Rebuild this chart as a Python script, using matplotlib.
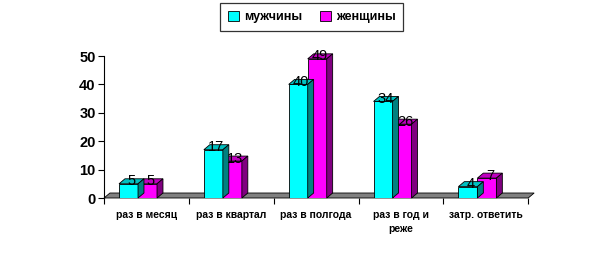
import matplotlib.pyplot as plt
import numpy as np
from matplotlib.patches import Polygon, Rectangle

plt.rcParams['font.family'] = ['Liberation Sans', 'DejaVu Sans']

categories = ['раз в месяц', 'раз в квартал', 'раз в полгода', 'раз в год и\nреже', 'затр. ответить']
men = [5, 17, 40, 34, 4]
women = [5, 13, 49, 26, 7]
series_names = ['мужчины', 'женщины']

# front, top, side colours
cyan = ('#00FFFF', '#00C0C0', '#008080')
magenta = ('#FF00FF', '#C000C0', '#800080')

fig = plt.figure(figsize=(6.16, 2.56), dpi=100)
ax = fig.add_axes([104 / 616, 58 / 256, 431 / 616, 142 / 256])

n = len(categories)
ax.set_xlim(0, n + 0.08)
ax.set_ylim(0, 50)

w = 0.224
dx = 0.07
dy = 1.76


def bar3d(x, h, cols):
    ax.add_patch(Rectangle((x, 0), w, h, facecolor=cols[0], edgecolor='black', lw=0.6, zorder=3))
    top = [(x, h), (x + w, h), (x + w + dx, h + dy), (x + dx, h + dy)]
    ax.add_patch(Polygon(top, closed=True, facecolor=cols[1], edgecolor='black', lw=0.6, zorder=3, clip_on=False))
    side = [(x + w, 0), (x + w + dx, dy), (x + w + dx, h + dy), (x + w, h)]
    ax.add_patch(Polygon(side, closed=True, facecolor=cols[2], edgecolor='black', lw=0.6, zorder=3, clip_on=False))
    ax.text(x + w / 2 + dx / 2, h + dy / 2, str(h), ha='center', va='center', fontsize=10.5,
            color='black', zorder=5, clip_on=False)


# floor
floor = [(0, 0), (n, 0), (n + dx, dy), (dx, dy)]
ax.add_patch(Polygon(floor, closed=True, facecolor='#808080', edgecolor='black', lw=0.6, zorder=1, clip_on=False))

for i in range(n):
    x0 = i + 0.177
    bar3d(x0 + w, women[i], magenta)
    bar3d(x0, men[i], cyan)

for s in ['top', 'right', 'bottom']:
    ax.spines[s].set_visible(False)
ax.spines['left'].set_linewidth(0.8)

ax.set_yticks(np.arange(0, 51, 10))
ax.tick_params(axis='y', length=4, width=0.8, labelsize=10.5, pad=2)
for lab in ax.get_yticklabels():
    lab.set_fontweight('bold')

ax.set_xticks(np.arange(n) + 0.5)
ax.set_xticklabels(categories, fontsize=7.5, fontweight='bold', linespacing=1.5)
ax.set_xticks(np.arange(n + 1), minor=True)
ax.tick_params(axis='x', which='major', length=0, pad=9)
ax.tick_params(axis='x', which='minor', length=4, width=0.8)

handles = [Rectangle((0, 0), 1, 1, facecolor=cyan[0], edgecolor='black', lw=0.6),
           Rectangle((0, 0), 1, 1, facecolor=magenta[0], edgecolor='black', lw=0.6)]
leg = fig.legend(handles, series_names, loc='upper center', bbox_to_anchor=(0.506, 0.988), ncol=2,
                 prop={'size': 9, 'weight': 'bold'}, frameon=True, fancybox=False, edgecolor='black',
                 handlelength=0.9, handleheight=0.9, handletextpad=0.4, columnspacing=1.4,
                 borderpad=0.6, borderaxespad=0)
leg.get_frame().set_linewidth(0.9)

fig.savefig('out.png', dpi=100)
